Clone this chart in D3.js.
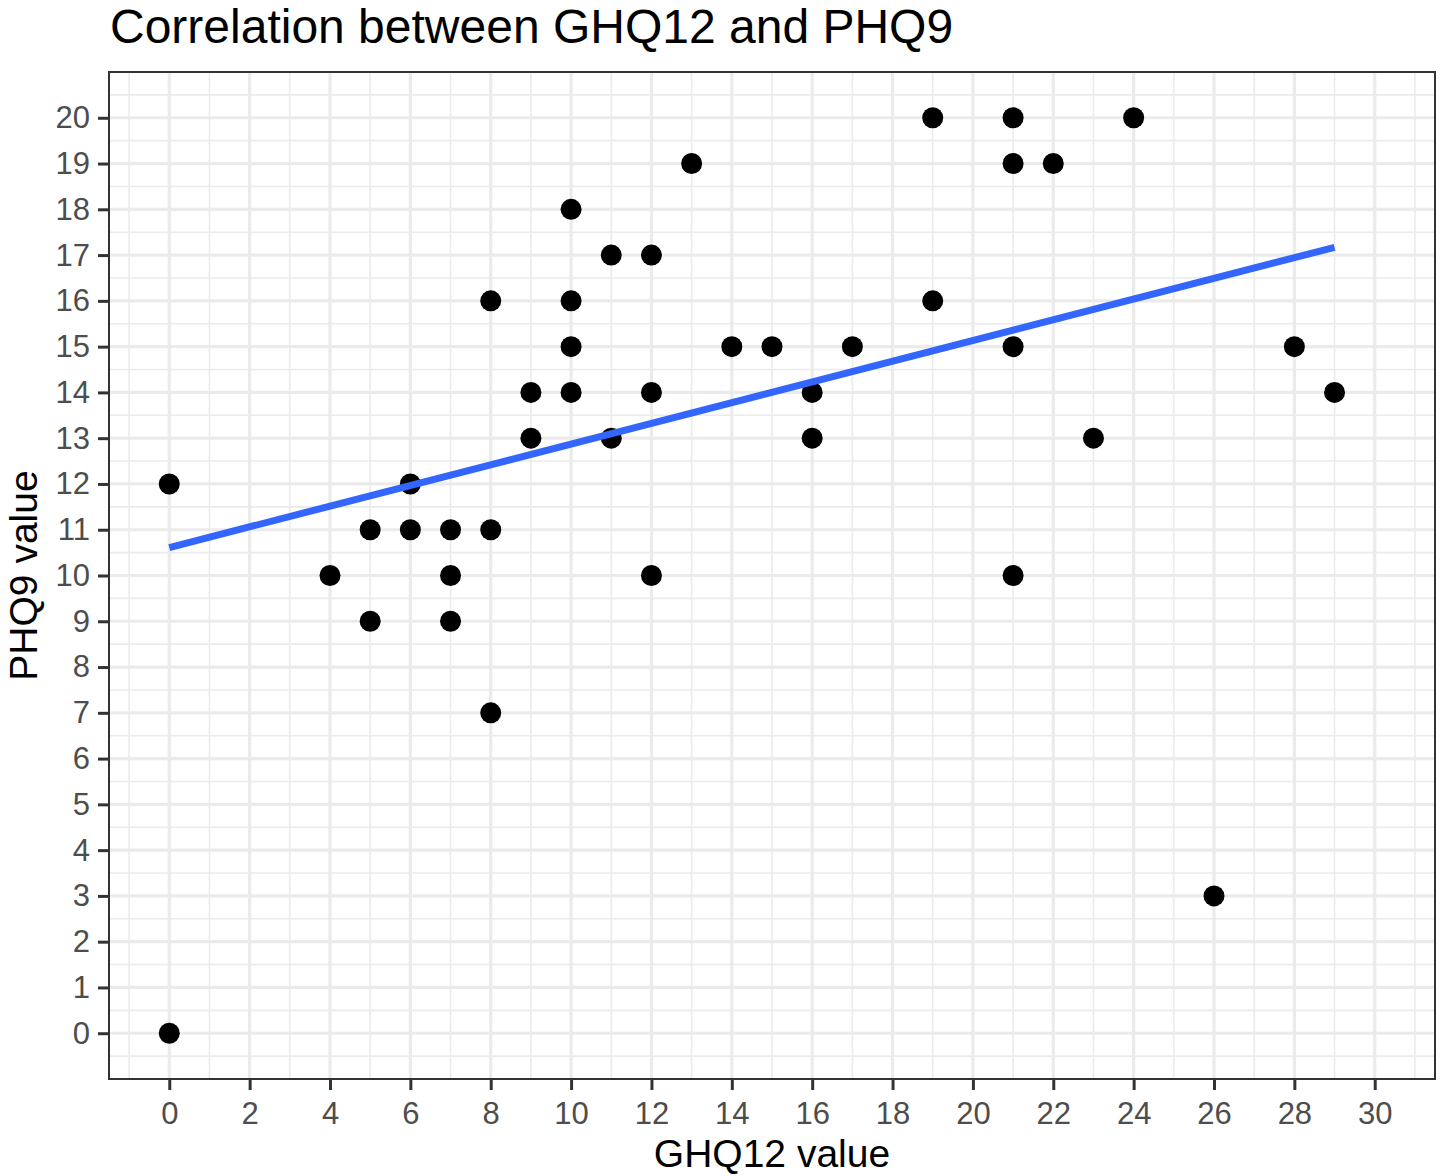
<!DOCTYPE html>
<html>
<head>
<meta charset="utf-8">
<script src="https://cdn.jsdelivr.net/npm/d3@7"></script>
<style>
  body { margin: 0; background: #fff; }
  svg text { font-family: "Liberation Sans", Arial, Helvetica, sans-serif; }
</style>
</head>
<body>
<svg id="chart" width="1441" height="1176"></svg>
<script>
// GHQ12 (x) and PHQ9 (y) values
var ghq12 = [0, 0, 4, 5, 5, 6, 6, 7, 7, 7, 8, 8, 8, 9, 9, 10, 10, 10, 10, 11, 11,
             12, 12, 12, 13, 14, 15, 16, 16, 17, 19, 19, 21, 21, 21, 21, 22, 23, 24, 26, 28, 29];
var phq9  = [12, 0, 10, 11, 9, 12, 11, 11, 10, 9, 16, 11, 7, 14, 13, 18, 16, 15, 14, 17, 13,
             17, 14, 10, 19, 15, 15, 14, 13, 15, 20, 16, 20, 19, 15, 10, 19, 13, 20, 3, 15, 14];

// fitted lm line (end points)
var fitX = [0, 29];
var fitY = [10.61, 17.17];

var xTicks = d3.range(0, 31, 2);
var xMinor = d3.range(-1, 32, 2);
var yTicks = d3.range(0, 21, 1);
var yMinor = d3.range(-0.5, 21, 1);

var svg = d3.select('#chart');
var margin = {left: 109, top: 72, right: 1435, bottom: 1079};

var x = d3.scaleLinear().domain([-1.5, 31.5]).range([margin.left, margin.right]);
var y = d3.scaleLinear().domain([-1, 21]).range([margin.bottom, margin.top]);

// panel background
svg.append('rect')
  .attr('x', margin.left).attr('y', margin.top)
  .attr('width', margin.right - margin.left)
  .attr('height', margin.bottom - margin.top)
  .style('fill', '#fff');

var grid = svg.append('g');

// minor grid
grid.selectAll('.vminor').data(xMinor).enter().append('line')
  .attr('x1', function(d){ return x(d); }).attr('x2', function(d){ return x(d); })
  .attr('y1', margin.top).attr('y2', margin.bottom)
  .style('stroke', '#EBEBEB').style('stroke-width', 1.6);
grid.selectAll('.hminor').data(yMinor).enter().append('line')
  .attr('y1', function(d){ return y(d); }).attr('y2', function(d){ return y(d); })
  .attr('x1', margin.left).attr('x2', margin.right)
  .style('stroke', '#EBEBEB').style('stroke-width', 1.6);

// major grid
grid.selectAll('.vmajor').data(xTicks).enter().append('line')
  .attr('x1', function(d){ return x(d); }).attr('x2', function(d){ return x(d); })
  .attr('y1', margin.top).attr('y2', margin.bottom)
  .style('stroke', '#EBEBEB').style('stroke-width', 3.2);
grid.selectAll('.hmajor').data(yTicks).enter().append('line')
  .attr('y1', function(d){ return y(d); }).attr('y2', function(d){ return y(d); })
  .attr('x1', margin.left).attr('x2', margin.right)
  .style('stroke', '#EBEBEB').style('stroke-width', 3.2);

// points
svg.append('g').selectAll('circle')
  .data(ghq12.map(function(v, i){ return {x: v, y: phq9[i]}; }))
  .enter().append('circle')
  .attr('cx', function(d){ return x(d.x); })
  .attr('cy', function(d){ return y(d.y); })
  .attr('r', 10.5)
  .style('fill', '#000');

// regression line
var line = d3.line()
  .x(function(d){ return x(d[0]); })
  .y(function(d){ return y(d[1]); });
svg.append('path')
  .datum(fitX.map(function(v, i){ return [v, fitY[i]]; }))
  .attr('d', line)
  .style('fill', 'none')
  .style('stroke', '#3366FF')
  .style('stroke-width', 7);

// panel border
svg.append('rect')
  .attr('x', margin.left).attr('y', margin.top)
  .attr('width', margin.right - margin.left)
  .attr('height', margin.bottom - margin.top)
  .style('fill', 'none').style('stroke', '#333').style('stroke-width', 2);

// axes
var xAxis = svg.append('g')
  .attr('transform', 'translate(0,' + (margin.bottom + 1) + ')')
  .call(d3.axisBottom(x).tickValues(xTicks).tickSize(10).tickPadding(12));
var yAxis = svg.append('g')
  .attr('transform', 'translate(' + (margin.left - 1) + ',0)')
  .call(d3.axisLeft(y).tickValues(yTicks).tickSize(10).tickPadding(8));

[xAxis, yAxis].forEach(function(ax){
  ax.select('.domain').remove();
  ax.selectAll('.tick line').style('stroke', '#333').style('stroke-width', 3);
  ax.selectAll('.tick text')
    .style('fill', '#4D4D4D')
    .style('font-size', '31px');
});

// titles
svg.append('text')
  .attr('x', 110).attr('y', 43)
  .style('font-size', '48px')
  .style('fill', '#000')
  .text('Correlation between GHQ12 and PHQ9');

svg.append('text')
  .attr('x', (margin.left + margin.right) / 2).attr('y', 1167)
  .attr('text-anchor', 'middle')
  .style('font-size', '39px')
  .style('fill', '#000')
  .text('GHQ12 value');

svg.append('text')
  .attr('transform', 'translate(37,' + ((margin.top + margin.bottom) / 2) + ') rotate(-90)')
  .attr('text-anchor', 'middle')
  .style('font-size', '39px')
  .style('fill', '#000')
  .text('PHQ9 value');
</script>
</body>
</html>
